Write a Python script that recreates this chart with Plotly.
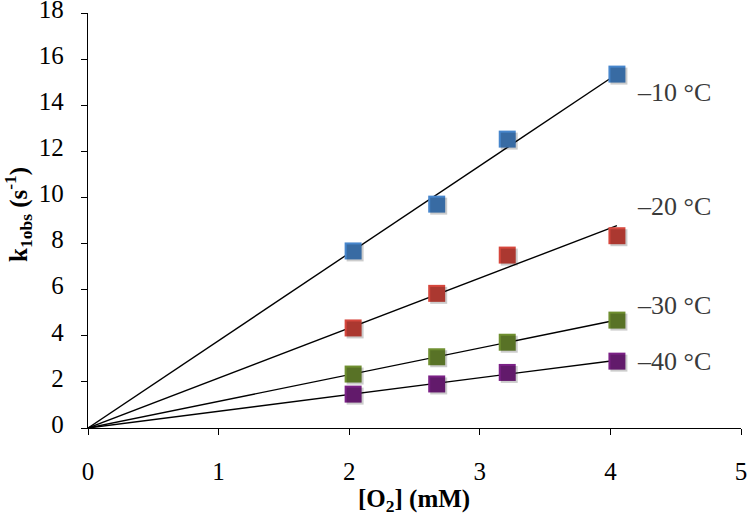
import plotly.graph_objects as go

o2 = [2.03, 2.67, 3.21, 4.05]
k_m10 = [7.68, 9.71, 12.53, 15.35]
k_m20 = [4.34, 5.84, 7.50, 8.34]
k_m30 = [2.34, 3.09, 3.72, 4.68]
k_m40 = [1.47, 1.91, 2.41, 2.90]
labels = ["\u201310 \u00b0C", "\u201320 \u00b0C", "\u201330 \u00b0C", "\u201340 \u00b0C"]
x_ticks = [0, 1, 2, 3, 4, 5]
y_ticks = [0, 2, 4, 6, 8, 10, 12, 14, 16, 18]

series = [k_m10, k_m20, k_m30, k_m40]
colors = ["#4786CC", "#D6473D", "#6F8F30", "#7B2186"]
label_y = [14.55, 9.6, 5.33, 2.87]

FONT = "Liberation Serif"
W, H = 750, 514
L, R, T, B = 88, 9, 13, 86
pw, ph = W - L - R, H - T - B
dx = 2.0 * 5 / pw
dy = 2.0 * 18 / ph


def px_to_paper(px, py):
    return (px - L) / pw, (H - B - py) / ph


fig = go.Figure()

for ys in series:
    slope = sum(a * b for a, b in zip(o2, ys)) / sum(a * a for a in o2)
    xend = max(o2)
    fig.add_trace(go.Scatter(x=[0, xend], y=[0, slope * xend], mode="lines",
                             line=dict(color="black", width=1.4), showlegend=False,
                             hoverinfo="skip", cliponaxis=False))

for ys in series:
    fig.add_trace(go.Scatter(x=o2, y=ys, mode="markers", xaxis="x2", yaxis="y2",
                             marker=dict(symbol="square", size=17, color="rgba(0,0,0,0.2)",
                                         line=dict(width=0)),
                             showlegend=False, hoverinfo="skip"))

for ys, c in zip(series, colors):
    fig.add_trace(go.Scatter(x=o2, y=ys, mode="markers",
                             marker=dict(symbol="square", size=17, color=c,
                                         line=dict(width=0)),
                             showlegend=False))

for lab, ly in zip(labels, label_y):
    fig.add_annotation(x=4.19, y=ly, text=lab, showarrow=False, xanchor="left",
                       yanchor="middle", font=dict(family=FONT, size=26, color="#3a3a3a"))

xt, yt = px_to_paper(414, 500)
fig.add_annotation(xref="paper", yref="paper", x=xt, y=yt,
                   text="<b>[O<sub>2</sub>] (mM)</b>", showarrow=False,
                   xanchor="center", yanchor="middle",
                   font=dict(family=FONT, size=25, color="black"))
xt, yt = px_to_paper(18, 215)
fig.add_annotation(xref="paper", yref="paper", x=xt, y=yt,
                   text="<b>k<sub>1obs</sub> (s<sup>-1</sup>)</b>", showarrow=False,
                   textangle=-90, xanchor="center", yanchor="middle",
                   font=dict(family=FONT, size=25, color="black"))

axis_common = dict(showgrid=False, zeroline=False, showline=True, linecolor="black",
                   linewidth=1.3, ticks="outside", ticklen=6, tickwidth=1.3,
                   tickcolor="black", automargin=False, ticklabeloverflow="allow")

fig.update_layout(
    width=W, height=H,
    font=dict(family=FONT, size=25, color="black"),
    margin=dict(l=L, r=R, t=T, b=B, pad=0),
    plot_bgcolor="white", paper_bgcolor="white",
    xaxis=dict(range=[0, 5], tickvals=x_ticks, ticklabelstandoff=15, **axis_common),
    yaxis=dict(range=[0, 18], tickvals=y_ticks, ticklabelstandoff=12,
               ticklabelshift=-4, **axis_common),
    xaxis2=dict(range=[-dx, 5 - dx], overlaying="x", visible=False),
    yaxis2=dict(range=[dy, 18 + dy], overlaying="y", visible=False),
)
fig.update_xaxes(tickfont=dict(family=FONT, size=25, color="black"), selector=dict(overlaying=None))
fig.update_yaxes(tickfont=dict(family=FONT, size=25, color="black"))

fig.write_html(
    "out.html",
    config={"displayModeBar": False},
    post_script="document.body.style.margin='0';"
                "document.documentElement.style.overflow='hidden';"
                "document.body.style.overflow='hidden';",
)
